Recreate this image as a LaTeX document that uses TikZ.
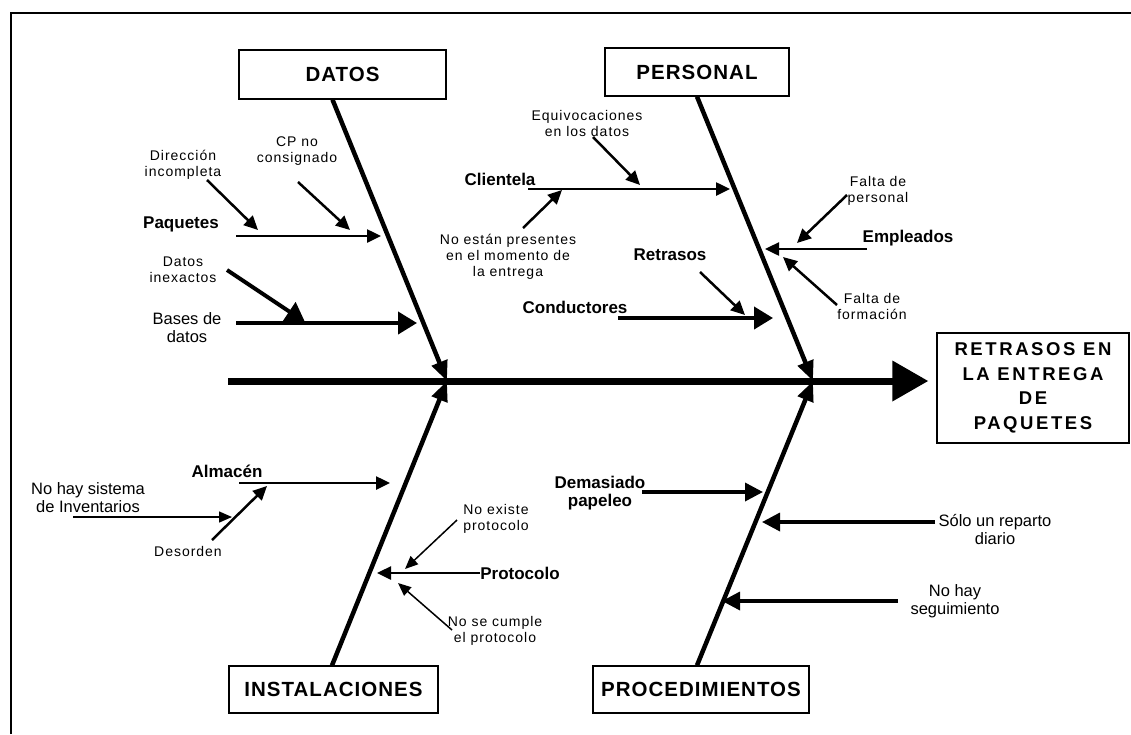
\documentclass[tikz,border=0pt]{standalone}
\usepackage{fontspec}
\setmainfont{Liberation Sans}
\newfontfamily\notafont[LetterSpace=7]{Liberation Sans}
\newfontfamily\cajafont[LetterSpace=5]{Liberation Sans}
\newfontfamily\efectofont[LetterSpace=14]{Liberation Sans}
\usetikzlibrary{arrows.meta}

\begin{document}
\begin{tikzpicture}[x=1pt, y=-1pt,
  caja/.style={draw, line width=1.3pt, inner sep=0pt, font=\cajafont\fontsize{20.5}{24}\selectfont\bfseries},
  causa/.style={inner sep=0pt, align=center, font=\fontsize{17}{18}\selectfont\bfseries},
  nota/.style={inner sep=0pt, align=center, font=\notafont\fontsize{14}{16}\selectfont},
  notag/.style={inner sep=0pt, align=center, font=\fontsize{16.5}{18}\selectfont},
  espina/.style={line width=7pt, -{Triangle[length=36pt,width=39pt]}},
  hueso/.style={line width=4.5pt, -{Triangle[length=20pt,width=16pt]}},
  rama/.style={line width=2.5pt, -{Triangle[length=14pt,width=13pt]}},
  ramam/.style={line width=3.5pt, -{Triangle[length=18pt,width=18pt]}},
  ramag/.style={line width=4pt, -{Triangle[length=19pt,width=22pt]}},
  fina/.style={line width=1.5pt, -{Triangle[length=13pt,width=11pt]}}]

\useasboundingbox (0,0) rectangle (1131,734);
\draw[line width=1.5pt] (11,734) -- (11,13) -- (1131,13);

% categorias y efecto
\node[caja, minimum width=207pt, minimum height=49pt] (datos) at (342.5,74.5) {DATOS};
\node[caja, minimum width=184pt, minimum height=48pt] (personal) at (697,72) {PERSONAL};
\node[caja, minimum width=209pt, minimum height=47pt] (instal) at (333.5,689.5) {INSTALACIONES};
\node[caja, minimum width=216pt, minimum height=47pt] (proced) at (701,689.5) {PROCEDIMIENTOS};
\node[caja, align=center, minimum width=192pt, minimum height=110pt,
  font=\efectofont\fontsize{18.5}{24.5}\selectfont\bfseries] (efecto) at (1033,388)
  {RETRASOS EN\\LA ENTREGA\\DE\\PAQUETES};

% espina
\coordinate (cola) at (228,381);
\coordinate (jd) at (447,381);
\coordinate (jp) at (813,381);
\draw[espina, shorten >=8pt] (cola) -- (cola -| efecto.west);

\draw[hueso] ([xshift=-10pt]datos.south) -- (jd);
\draw[hueso] (personal.south) -- (jp);
\draw[hueso] ([xshift=-1.5pt]instal.north) -- (jd);
\draw[hueso] ([xshift=-4pt]proced.north) -- (jp);

% DATOS
\node[nota] (direccion) at (183,165) {Dirección\\incompleta};
\node[nota] (cp) at (297,151) {CP no\\consignado};
\node[causa] (paquetes) at (181,224) {Paquetes};
\node[nota] (inexactos) at (183,270) {Datos\\inexactos};
\node[notag] (bases) at (187,328) {Bases de\\datos};

\coordinate (paq-a) at (236,236); \coordinate (paq-b) at (381,236);
\coordinate (dir-a) at (207,180); \coordinate (dir-b) at (258,230);
\coordinate (cp-a) at (298,182);  \coordinate (cp-b) at (350,230);
\coordinate (bas-a) at (236,323); \coordinate (bas-b) at (417,323);
\coordinate (inex-a) at (227,270); \coordinate (inex-b) at (305,322);
\draw[rama] (paq-a) -- (paq-b);
\draw[rama] (dir-a) -- (dir-b);
\draw[rama] (cp-a) -- (cp-b);
\draw[ramag] (bas-a) -- (bas-b);
\draw[ramag] (inex-a) -- (inex-b);

% PERSONAL
\node[nota] (equivoc) at (587,123) {Equivocaciones\\en los datos};
\node[causa] (clientela) at (500,179) {Clientela};
\node[nota] (ausentes) at (508,257) {No están presentes\\en el momento de\\la entrega};
\node[causa] (retrasos) at (670,255) {Retrasos};
\node[causa] (conductores) at (575,307) {Conductores};
\node[causa] (empleados) at (908,238) {Empleados};
\node[nota] (faltaper) at (878,191) {Falta de\\personal};
\node[nota] (faltaform) at (872,306) {Falta de\\formación};

\coordinate (cli-a) at (528,189); \coordinate (cli-b) at (730,189);
\coordinate (equ-a) at (593,137); \coordinate (equ-b) at (640,185);
\coordinate (aus-a) at (523,228); \coordinate (aus-b) at (562,190);
\coordinate (con-a) at (618,318); \coordinate (con-b) at (773,318);
\coordinate (ret-a) at (700,272); \coordinate (ret-b) at (745,315);
\coordinate (emp-a) at (867,249); \coordinate (emp-b) at (765,249);
\coordinate (fp-a) at (847,195);  \coordinate (fp-b) at (797,243);
\coordinate (ff-a) at (837,305);  \coordinate (ff-b) at (783,257);
\draw[rama] (cli-a) -- (cli-b);
\draw[rama] (equ-a) -- (equ-b);
\draw[rama] (aus-a) -- (aus-b);
\draw[ramag] (con-a) -- (con-b);
\draw[rama] (ret-a) -- (ret-b);
\draw[rama] (emp-a) -- (emp-b);
\draw[rama] (fp-a) -- (fp-b);
\draw[rama] (ff-a) -- (ff-b);

% INSTALACIONES
\node[causa] (almacen) at (227,471) {Almacén};
\node[notag] (inventario) at (88,498) {No hay sistema\\de Inventarios};
\node[nota] (desorden) at (188,551) {Desorden};
\node[causa] (protocolo) at (520,573) {Protocolo};
\node[nota] (noexiste) at (496,519) {No existe\\protocolo};
\node[nota] (nocumple) at (495,631) {No se cumple\\el protocolo};

\coordinate (alm-a) at (239,483); \coordinate (alm-b) at (390,483);
\coordinate (inv-a) at (73,517);  \coordinate (inv-b) at (232,517);
\coordinate (des-a) at (212,540); \coordinate (des-b) at (267,486);
\coordinate (pro-b) at (377,573);
\coordinate (nex-a) at (457,520); \coordinate (nex-b) at (405,569);
\coordinate (ncu-a) at (452,630); \coordinate (ncu-b) at (398,583);
\draw[rama] (alm-a) -- (alm-b);
\draw[fina] (inv-a) -- (inv-b);
\draw[rama] (des-a) -- (des-b);
\draw[rama] (protocolo.west) -- (pro-b);
\draw[fina] (nex-a) -- (nex-b);
\draw[fina] (ncu-a) -- (ncu-b);

% PROCEDIMIENTOS
\node[causa] (papeleo) at (600,493) {Demasiado\\papeleo};
\node[notag] (reparto) at (995,529) {Sólo un reparto\\diario};
\node[notag] (seguimiento) at (955,601) {No hay\\seguimiento};

\coordinate (pap-a) at (642,492); \coordinate (pap-b) at (763,492);
\coordinate (rep-a) at (935,522); \coordinate (rep-b) at (762,522);
\coordinate (seg-a) at (898,601); \coordinate (seg-b) at (722,601);
\draw[ramam] (pap-a) -- (pap-b);
\draw[ramam] (rep-a) -- (rep-b);
\draw[ramam] (seg-a) -- (seg-b);

\end{tikzpicture}
\end{document}
